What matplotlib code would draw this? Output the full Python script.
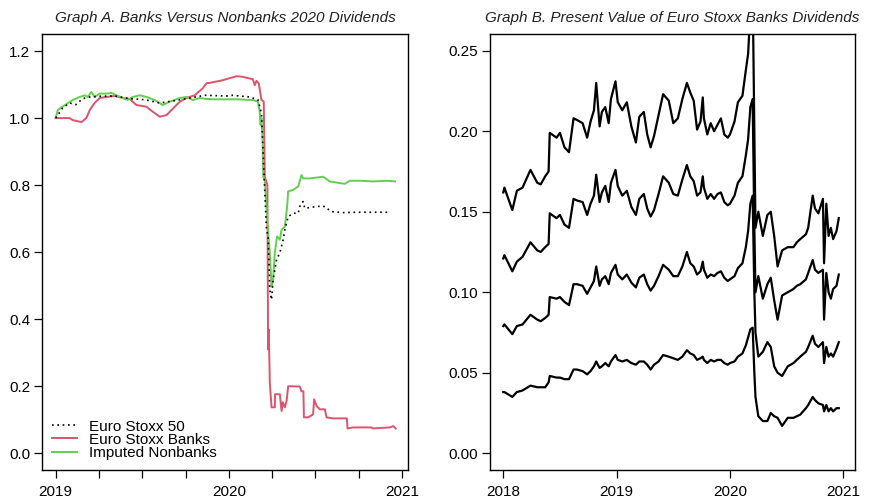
import matplotlib
matplotlib.use("Agg")
import matplotlib.pyplot as plt
import numpy as np

plt.rcParams['font.family'] = ['Liberation Sans', 'DejaVu Sans']

# ---------------- Panel A data ----------------
stoxx50_t = [2019.000, 2019.040, 2019.081, 2019.116, 2019.156, 2019.197, 2019.254, 2019.341,
             2019.428, 2019.514, 2019.601, 2019.688, 2019.775, 2019.861, 2019.987, 2020.023,
             2020.121, 2020.168, 2020.189, 2020.202, 2020.218, 2020.227, 2020.237, 2020.247,
             2020.256, 2020.276, 2020.295, 2020.314, 2020.324, 2020.343, 2020.372, 2020.401,
             2020.410, 2020.429, 2020.439, 2020.507, 2020.545, 2020.594, 2020.661, 2020.738,
             2020.854, 2020.931]
stoxx50_v = [1.000, 1.030, 1.045, 1.040, 1.058, 1.063, 1.065, 1.066,
             1.058, 1.055, 1.045, 1.052, 1.060, 1.068, 1.066, 1.068,
             1.063, 1.055, 1.014, 0.850, 0.667, 0.647, 0.488, 0.458,
             0.518, 0.577, 0.598, 0.637, 0.667, 0.706, 0.716, 0.716,
             0.736, 0.751, 0.731, 0.736, 0.738, 0.721, 0.718, 0.719,
             0.719, 0.719]

banks_t = [2019.000, 2019.081, 2019.098, 2019.149, 2019.177, 2019.197, 2019.225, 2019.254,
           2019.293, 2019.341, 2019.387, 2019.428, 2019.466, 2019.524, 2019.561, 2019.601,
           2019.640, 2019.669, 2019.717, 2019.755, 2019.803, 2019.850, 2019.871, 2019.890,
           2019.965, 2020.045, 2020.081, 2020.139, 2020.150, 2020.160, 2020.173, 2020.189,
           2020.202, 2020.208, 2020.223, 2020.227, 2020.231, 2020.237, 2020.247, 2020.266,
           2020.267, 2020.295, 2020.305, 2020.312, 2020.324, 2020.334, 2020.343, 2020.410,
           2020.420, 2020.431, 2020.434, 2020.458, 2020.478, 2020.487, 2020.493, 2020.507,
           2020.526, 2020.555, 2020.565, 2020.603, 2020.682, 2020.686, 2020.718, 2020.825,
           2020.831, 2020.931, 2020.950, 2020.964]
banks_v = [1.000, 1.000, 0.994, 0.988, 1.000, 1.024, 1.045, 1.060,
           1.063, 1.066, 1.060, 1.057, 1.039, 1.034, 1.019, 1.004,
           1.009, 1.024, 1.049, 1.060, 1.068, 1.089, 1.104, 1.105,
           1.113, 1.125, 1.123, 1.116, 1.098, 1.111, 1.104, 1.054,
           1.049, 0.825, 0.800, 0.310, 0.370, 0.210, 0.137, 0.137,
           0.176, 0.176, 0.126, 0.152, 0.137, 0.156, 0.200, 0.199,
           0.185, 0.185, 0.107, 0.107, 0.113, 0.116, 0.161, 0.141,
           0.131, 0.131, 0.107, 0.104, 0.104, 0.074, 0.077, 0.077,
           0.074, 0.077, 0.081, 0.074]

nonbanks_t = [2019.000, 2019.012, 2019.040, 2019.069, 2019.098, 2019.139, 2019.168, 2019.185,
              2019.206, 2019.225, 2019.254, 2019.293, 2019.322, 2019.351, 2019.387, 2019.416,
              2019.445, 2019.486, 2019.524, 2019.572, 2019.618, 2019.659, 2019.717, 2019.755,
              2019.794, 2019.832, 2019.871, 2019.929, 2020.006, 2020.045, 2020.139, 2020.168,
              2020.179, 2020.183, 2020.189, 2020.195, 2020.199, 2020.208, 2020.225, 2020.237,
              2020.247, 2020.256, 2020.266, 2020.279, 2020.295, 2020.305, 2020.324, 2020.337,
              2020.343, 2020.372, 2020.401, 2020.420, 2020.429, 2020.468, 2020.545, 2020.584,
              2020.642, 2020.671, 2020.699, 2020.757, 2020.834, 2020.912, 2020.960]
nonbanks_v = [1.000, 1.024, 1.034, 1.044, 1.054, 1.063, 1.068, 1.063,
              1.078, 1.063, 1.073, 1.073, 1.075, 1.068, 1.060, 1.054,
              1.063, 1.068, 1.063, 1.054, 1.039, 1.049, 1.060, 1.063,
              1.054, 1.060, 1.057, 1.056, 1.056, 1.056, 1.054, 1.049,
              1.019, 0.980, 1.000, 0.935, 0.825, 0.815, 0.676, 0.598,
              0.498, 0.518, 0.598, 0.647, 0.637, 0.667, 0.676, 0.736,
              0.781, 0.786, 0.796, 0.830, 0.820, 0.820, 0.825, 0.811,
              0.806, 0.804, 0.813, 0.813, 0.811, 0.813, 0.811]

legend_labels = ["Euro Stoxx 50", "Euro Stoxx Banks", "Imputed Nonbanks"]
colors_a = ["black", "#DF536B", "#61D04F"]

# ---------------- Panel B data ----------------
pv_t = [2018.00, 2018.01, 2018.08, 2018.12, 2018.17, 2018.24, 2018.30, 2018.33, 2018.37, 2018.40,
        2018.41, 2018.47, 2018.50, 2018.54, 2018.58, 2018.62, 2018.65, 2018.70, 2018.74, 2018.77,
        2018.80, 2018.82, 2018.85, 2018.87, 2018.90, 2018.93, 2018.95, 2018.99, 2019.01, 2019.05,
        2019.09, 2019.13, 2019.17, 2019.20, 2019.24, 2019.27, 2019.30, 2019.33, 2019.37, 2019.41,
        2019.46, 2019.50, 2019.54, 2019.58, 2019.62, 2019.65, 2019.68, 2019.71, 2019.74, 2019.76,
        2019.77, 2019.80, 2019.83, 2019.86, 2019.89, 2019.92, 2019.95, 2019.98, 2020.00, 2020.04,
        2020.07, 2020.11, 2020.14, 2020.16, 2020.18, 2020.20, 2020.215, 2020.225, 2020.25, 2020.29,
        2020.33, 2020.36, 2020.39, 2020.42, 2020.46, 2020.51, 2020.56, 2020.59, 2020.62, 2020.67,
        2020.69, 2020.73, 2020.75, 2020.78, 2020.82, 2020.83, 2020.85, 2020.87, 2020.89, 2020.91,
        2020.94, 2020.96]

pv_1y = [0.038, 0.038, 0.035, 0.038, 0.039, 0.042, 0.041, 0.041, 0.041, 0.044,
         0.048, 0.047, 0.047, 0.046, 0.046, 0.052, 0.052, 0.051, 0.049, 0.051,
         0.054, 0.057, 0.053, 0.054, 0.056, 0.054, 0.057, 0.061, 0.058, 0.057,
         0.058, 0.056, 0.055, 0.057, 0.057, 0.055, 0.052, 0.055, 0.057, 0.061,
         0.060, 0.059, 0.058, 0.060, 0.064, 0.062, 0.061, 0.058, 0.059, 0.060,
         0.058, 0.056, 0.058, 0.057, 0.058, 0.058, 0.056, 0.055, 0.056, 0.057,
         0.060, 0.062, 0.067, 0.072, 0.077, 0.078, 0.050, 0.035, 0.023, 0.020,
         0.020, 0.025, 0.023, 0.022, 0.017, 0.022, 0.022, 0.023, 0.024, 0.028,
         0.030, 0.035, 0.033, 0.031, 0.030, 0.026, 0.030, 0.026, 0.028, 0.026,
         0.028, 0.028]

pv_2y = [0.079, 0.080, 0.074, 0.079, 0.080, 0.086, 0.083, 0.082, 0.084, 0.086,
         0.097, 0.096, 0.097, 0.094, 0.092, 0.105, 0.105, 0.104, 0.099, 0.103,
         0.107, 0.116, 0.104, 0.108, 0.110, 0.105, 0.112, 0.117, 0.111, 0.108,
         0.111, 0.106, 0.103, 0.109, 0.111, 0.105, 0.101, 0.104, 0.110, 0.117,
         0.114, 0.110, 0.110, 0.116, 0.125, 0.118, 0.116, 0.111, 0.113, 0.119,
         0.114, 0.109, 0.111, 0.110, 0.112, 0.113, 0.109, 0.107, 0.108, 0.110,
         0.115, 0.118, 0.128, 0.138, 0.155, 0.160, 0.100, 0.075, 0.060, 0.063,
         0.069, 0.066, 0.054, 0.050, 0.048, 0.054, 0.056, 0.058, 0.060, 0.063,
         0.066, 0.073, 0.068, 0.066, 0.069, 0.056, 0.066, 0.060, 0.062, 0.060,
         0.065, 0.069]

pv_3y = [0.121, 0.123, 0.113, 0.119, 0.122, 0.131, 0.126, 0.125, 0.128, 0.130,
         0.149, 0.146, 0.148, 0.142, 0.140, 0.158, 0.157, 0.156, 0.148, 0.155,
         0.160, 0.173, 0.156, 0.162, 0.166, 0.156, 0.168, 0.176, 0.166, 0.160,
         0.163, 0.153, 0.148, 0.158, 0.161, 0.152, 0.147, 0.151, 0.161, 0.172,
         0.168, 0.161, 0.160, 0.170, 0.179, 0.172, 0.169, 0.160, 0.162, 0.172,
         0.165, 0.158, 0.161, 0.158, 0.161, 0.162, 0.156, 0.154, 0.155, 0.160,
         0.168, 0.172, 0.185, 0.195, 0.215, 0.220, 0.140, 0.100, 0.110, 0.096,
         0.105, 0.109, 0.095, 0.083, 0.098, 0.100, 0.102, 0.104, 0.105, 0.108,
         0.112, 0.120, 0.114, 0.112, 0.114, 0.083, 0.112, 0.100, 0.096, 0.102,
         0.104, 0.111]

pv_4y = [0.162, 0.165, 0.151, 0.163, 0.165, 0.176, 0.168, 0.167, 0.172, 0.175,
         0.199, 0.196, 0.199, 0.190, 0.187, 0.208, 0.207, 0.205, 0.196, 0.206,
         0.213, 0.230, 0.203, 0.212, 0.215, 0.205, 0.220, 0.231, 0.218, 0.213,
         0.218, 0.203, 0.193, 0.209, 0.212, 0.198, 0.190, 0.197, 0.210, 0.223,
         0.219, 0.205, 0.208, 0.220, 0.230, 0.224, 0.219, 0.201, 0.206, 0.221,
         0.208, 0.198, 0.205, 0.200, 0.204, 0.208, 0.198, 0.196, 0.198, 0.206,
         0.218, 0.222, 0.238, 0.248, 0.275, 0.290, 0.200, 0.140, 0.150, 0.135,
         0.148, 0.150, 0.135, 0.116, 0.126, 0.128, 0.128, 0.131, 0.133, 0.136,
         0.140, 0.160, 0.152, 0.149, 0.158, 0.118, 0.155, 0.135, 0.140, 0.133,
         0.138, 0.146]

title_a = "Graph A. Banks Versus Nonbanks 2020 Dividends"
title_b = "Graph B. Present Value of Euro Stoxx Banks Dividends"

# ---------------- Figure ----------------
fig = plt.figure(figsize=(8.69, 5.0), dpi=100)
axA = fig.add_axes([42 / 869, 30 / 500, 366.3 / 869, 435.7 / 500])
axB = fig.add_axes([490 / 869, 30 / 500, 365 / 869, 435.7 / 500])

FS = 11

# Panel A
axA.plot(stoxx50_t, stoxx50_v, color=colors_a[0], lw=1.2, linestyle=(0, (1, 2.2)),
         label=legend_labels[0], zorder=4)
axA.plot(banks_t, banks_v, color=colors_a[1], lw=1.4, label=legend_labels[1], zorder=2)
axA.plot(nonbanks_t, nonbanks_v, color=colors_a[2], lw=1.4, label=legend_labels[2], zorder=3)
axA.set_xlim(2018.921, 2021.037)
axA.set_ylim(-0.05, 1.25)
axA.set_yticks([0.0, 0.2, 0.4, 0.6, 0.8, 1.0, 1.2])
axA.set_yticklabels(["0.0", "0.2", "0.4", "0.6", "0.8", "1.0", "1.2"])
axA.set_xticks([2019, 2020, 2021])
axA.set_xticklabels(["2019", "2020", "2021"])
axA.set_xticks([2019.25, 2019.5, 2019.75, 2020.25, 2020.5, 2020.75], minor=True)
axA.set_title(title_a, fontsize=FS, style='italic', pad=9, color='#222222')
leg = axA.legend(loc='lower left', frameon=False, fontsize=FS, handlelength=1.65,
                 handletextpad=0.75, labelspacing=-0.05, borderaxespad=0.35, borderpad=0.3)

# Panel B
for series in (pv_1y, pv_2y, pv_3y, pv_4y):
    axB.plot(pv_t, series, color='black', lw=1.6)
axB.set_xlim(2017.883, 2021.103)
axB.set_ylim(-0.0104, 0.2602)
axB.set_yticks([0.00, 0.05, 0.10, 0.15, 0.20, 0.25])
axB.set_yticklabels(["0.00", "0.05", "0.10", "0.15", "0.20", "0.25"])
axB.set_xticks([2018, 2019, 2020, 2021])
axB.set_xticklabels(["2018", "2019", "2020", "2021"])
axB.set_title(title_b, fontsize=FS, style='italic', pad=9, color='#222222')

for ax in (axA, axB):
    for s in ax.spines.values():
        s.set_linewidth(1.0)
        s.set_color('black')
    ax.tick_params(axis='both', which='both', direction='out', length=5.5, width=0.9,
                   labelsize=FS, colors='black')
    ax.tick_params(axis='x', which='both', pad=5)
    ax.tick_params(axis='y', which='both', pad=3)

fig.savefig("out.png", dpi=100)
